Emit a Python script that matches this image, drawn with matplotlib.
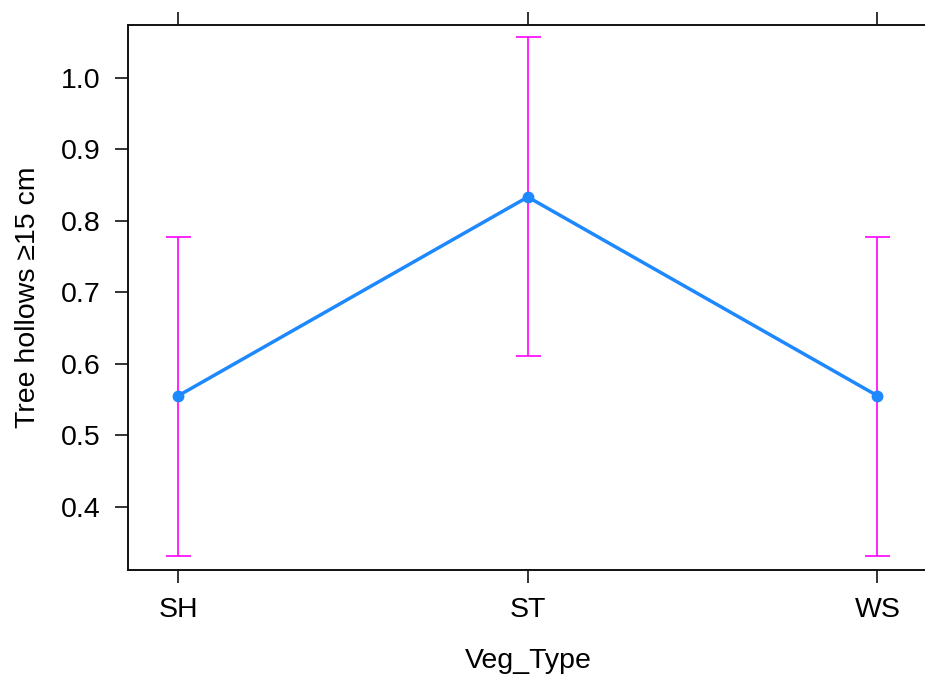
import matplotlib
matplotlib.use("Agg")
import matplotlib.pyplot as plt

# effect estimates per vegetation type
veg_types = ["SH", "ST", "WS"]
fit = [0.5556, 0.8333, 0.5556]
lower = [0.3314, 0.6111, 0.3314]
upper = [0.7778, 1.0566, 0.7778]
y_ticks = [0.4, 0.5, 0.6, 0.7, 0.8, 0.9, 1.0]

plt.rcParams['font.family'] = ['Liberation Sans', 'DejaVu Sans']

fig = plt.figure(figsize=(9.25, 6.78), dpi=100)
ax = fig.add_axes([128 / 925, 108.3 / 678, 800 / 925, 544.7 / 678])

x = list(range(len(veg_types)))
err_lo = [f - l for f, l in zip(fit, lower)]
err_hi = [u - f for f, u in zip(fit, upper)]

ax.plot(x, fit, color="#1E88FF", lw=2.5, zorder=2)
ax.errorbar(x, fit, yerr=[err_lo, err_hi], fmt="none", ecolor="#FF00FF",
            elinewidth=1.2, capsize=9, capthick=1.2, zorder=3)
ax.plot(x, fit, "o", color="#1E88FF", ms=7.5, zorder=4)

ax.set_xlim(-0.144, 2.145)
ax.set_ylim(0.3124, 1.0737)
ax.set_xticks(x)
ax.set_xticklabels(veg_types)
ax.set_yticks(y_ticks)
ax.set_yticklabels([f"{v:.1f}" for v in y_ticks])

ax.set_xlabel("Veg_Type", fontsize=20.5, labelpad=18)
ax.set_ylabel("Tree hollows \u226515 cm", fontsize=20.5, labelpad=14)

for sp in ax.spines.values():
    sp.set_linewidth(1.4)
    sp.set_color("#111111")

ax.tick_params(axis="x", top=True, bottom=True, direction="out", length=9.4,
               width=1.2, labelsize=20.5, pad=10.5, colors="#111111", labelcolor="black")
ax.tick_params(axis="y", left=True, right=False, direction="out", length=9.4,
               width=1.2, labelsize=20.5, pad=10.5, colors="#111111", labelcolor="black")

fig.savefig("out.png", dpi=100)
